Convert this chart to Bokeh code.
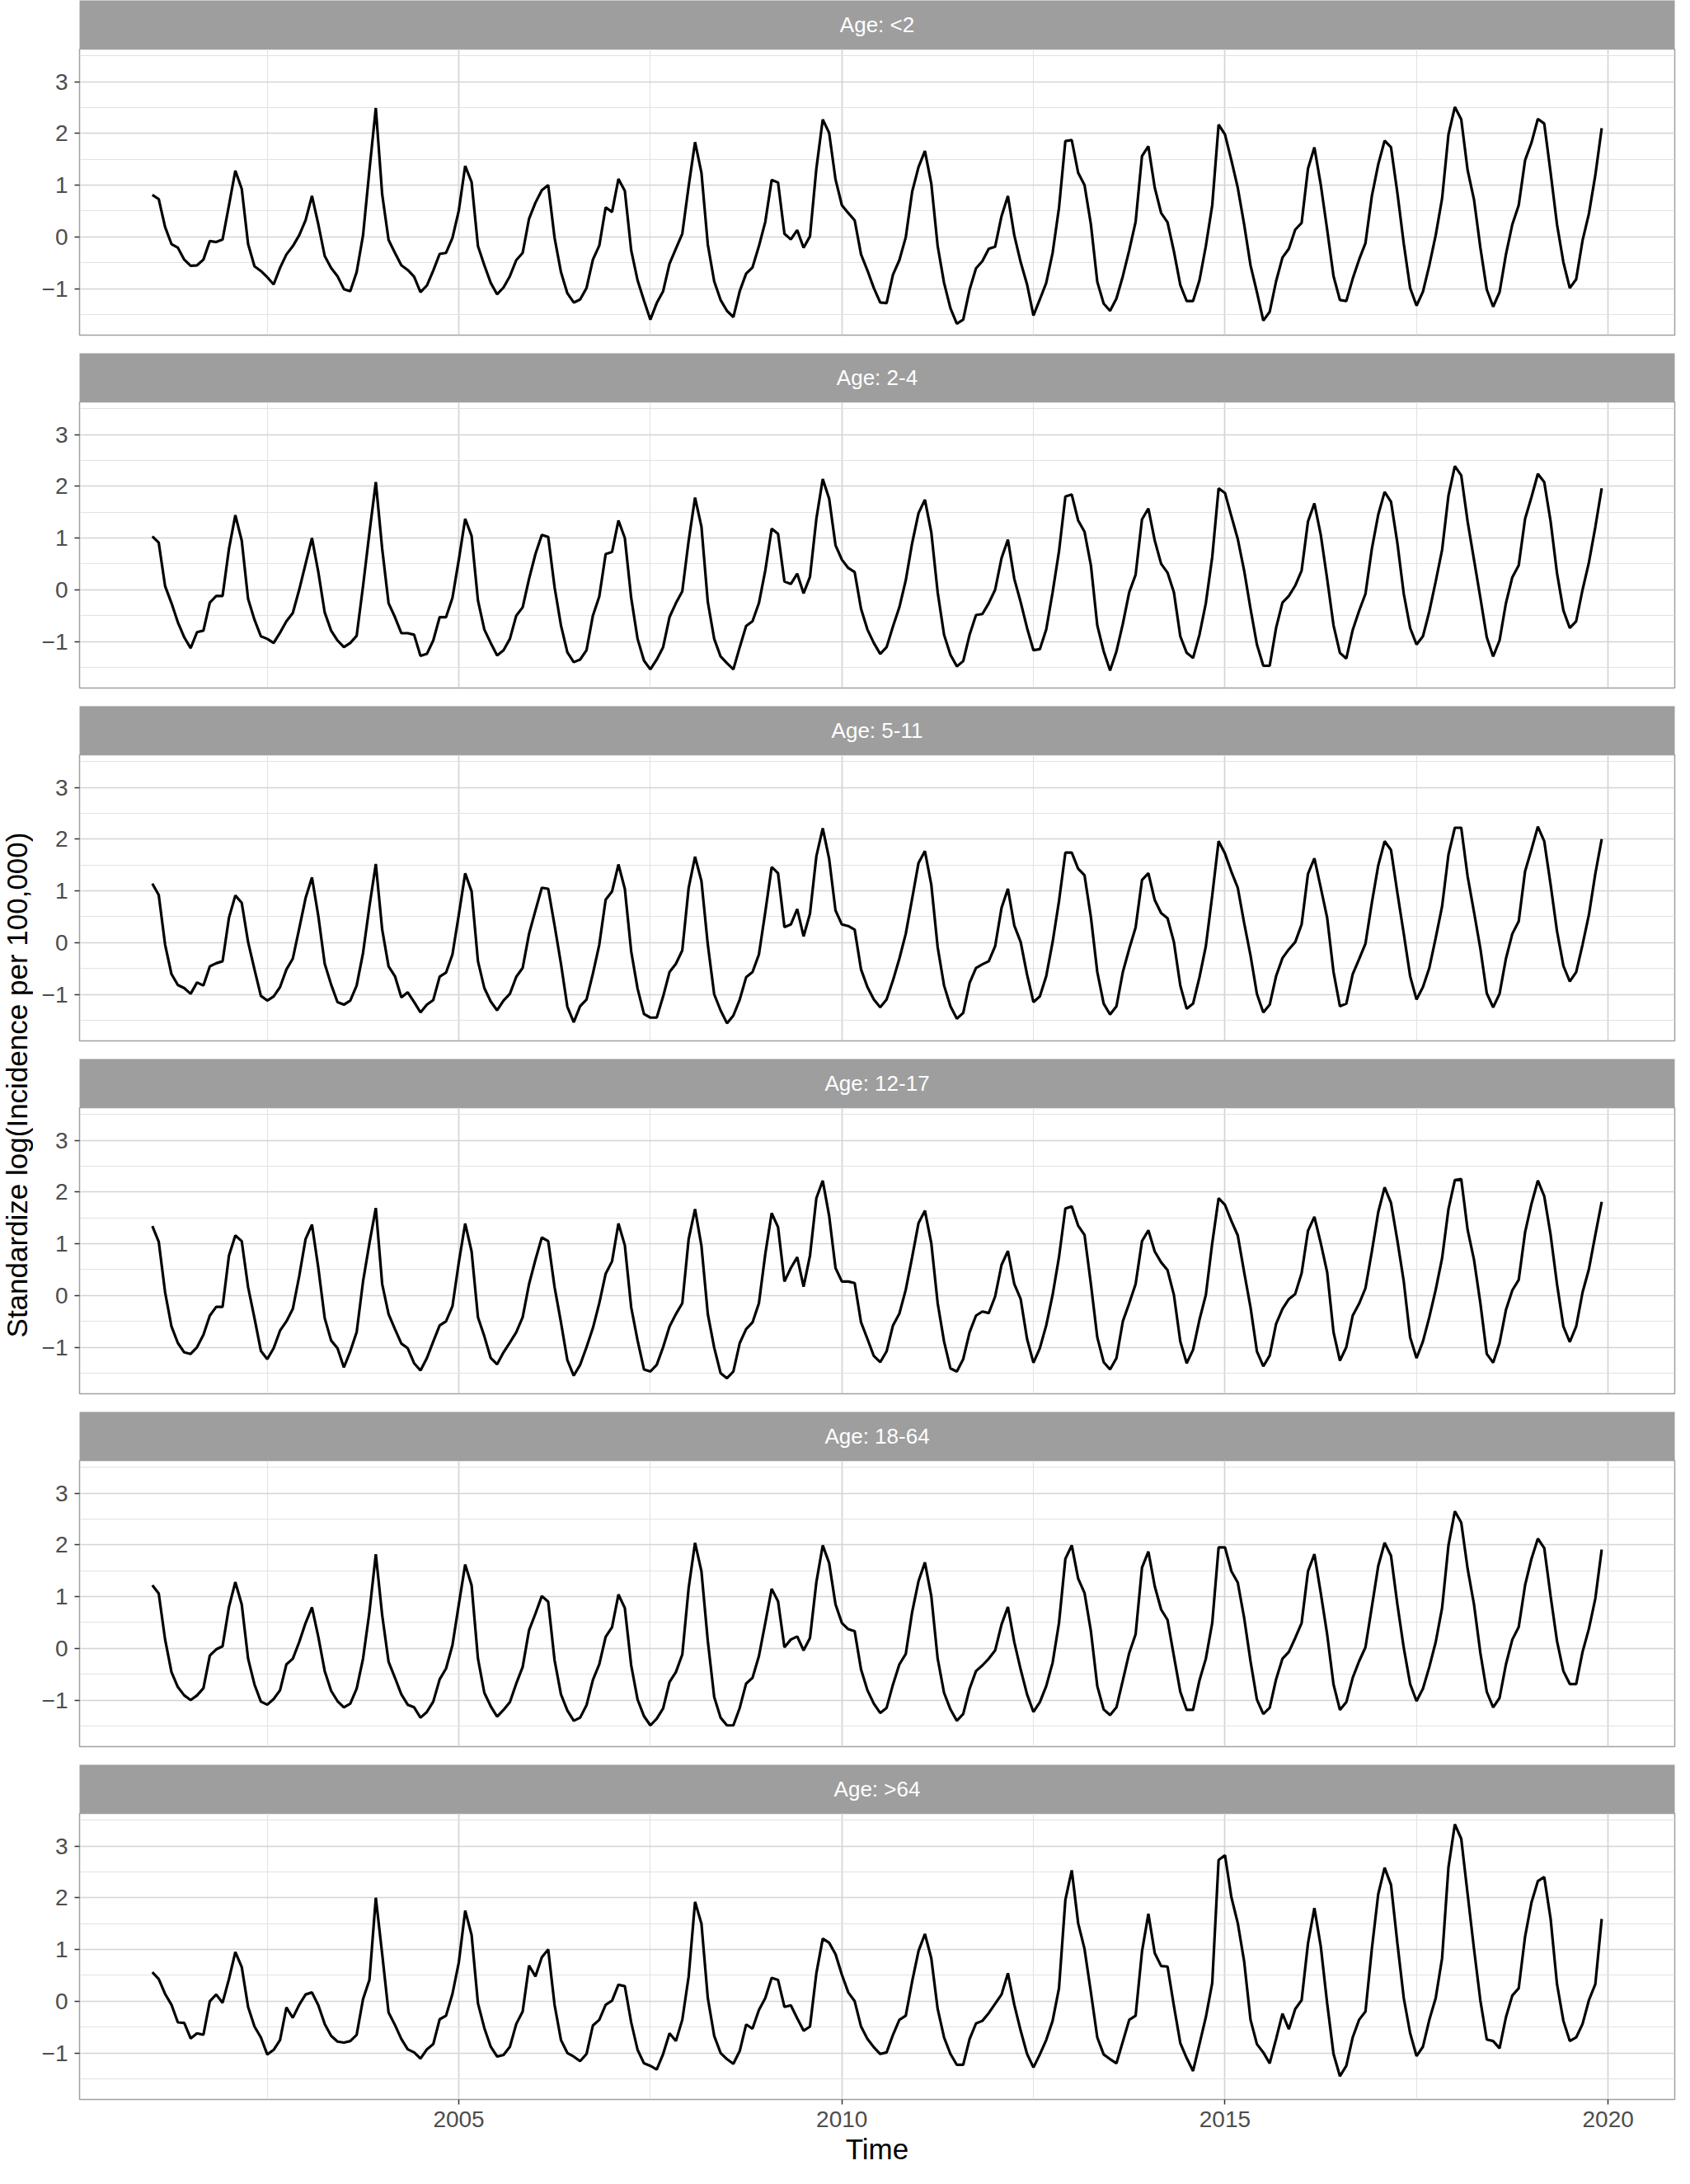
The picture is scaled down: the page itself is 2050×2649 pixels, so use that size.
import numpy as np
from bokeh.plotting import figure
from bokeh.layouts import column, row
from bokeh.models import Range1d, FixedTicker, Label
from bokeh.embed import file_html
from bokeh.resources import INLINE

# ---------------- data ----------------
start_year = 2001          # first observation: January 2001, monthly to December 2019
n_months = 228
panel_titles = ["Age: <2", "Age: 2-4", "Age: 5-11", "Age: 12-17", "Age: 18-64", "Age: >64"]

age_lt2 = [
    0.81, 0.73, 0.19, -0.14, -0.21, -0.44, -0.56, -0.55, -0.44, -0.08, -0.10, -0.05,
    0.61, 1.28, 0.93, -0.14, -0.57, -0.66, -0.78, -0.92, -0.60, -0.34, -0.18, 0.03,
    0.32, 0.79, 0.24, -0.37, -0.60, -0.76, -1.01, -1.05, -0.68, 0.03, 1.29, 2.49,
    0.82, -0.06, -0.31, -0.55, -0.64, -0.77, -1.07, -0.94, -0.65, -0.33, -0.31, -0.02,
    0.51, 1.37, 1.06, -0.18, -0.55, -0.89, -1.11, -0.98, -0.76, -0.45, -0.31, 0.35,
    0.66, 0.90, 1.00, -0.02, -0.68, -1.09, -1.27, -1.21, -0.99, -0.44, -0.17, 0.57,
    0.48, 1.12, 0.89, -0.26, -0.84, -1.23, -1.60, -1.28, -1.05, -0.52, -0.23, 0.06,
    0.98, 1.83, 1.24, -0.15, -0.86, -1.22, -1.43, -1.55, -1.05, -0.71, -0.59, -0.18,
    0.29, 1.10, 1.05, 0.06, -0.05, 0.13, -0.21, 0.01, 1.32, 2.27, 2.01, 1.11,
    0.61, 0.46, 0.32, -0.34, -0.65, -0.99, -1.27, -1.28, -0.73, -0.45, -0.01, 0.87,
    1.35, 1.66, 1.03, -0.18, -0.89, -1.38, -1.68, -1.60, -1.02, -0.61, -0.47, -0.23,
    -0.19, 0.40, 0.79, 0.03, -0.49, -0.92, -1.52, -1.21, -0.89, -0.31, 0.56, 1.85,
    1.87, 1.24, 1.00, 0.24, -0.87, -1.29, -1.43, -1.19, -0.76, -0.26, 0.29, 1.56,
    1.75, 0.95, 0.46, 0.28, -0.28, -0.93, -1.24, -1.24, -0.84, -0.18, 0.61, 2.17,
    1.98, 1.48, 0.95, 0.24, -0.55, -1.07, -1.62, -1.45, -0.86, -0.40, -0.23, 0.14,
    0.27, 1.32, 1.73, 1.01, 0.14, -0.76, -1.22, -1.24, -0.81, -0.44, -0.12, 0.79,
    1.40, 1.86, 1.73, 0.85, -0.13, -0.99, -1.33, -1.06, -0.55, 0.03, 0.74, 1.98,
    2.51, 2.27, 1.29, 0.72, -0.21, -1.02, -1.35, -1.07, -0.34, 0.24, 0.61, 1.48,
    1.82, 2.28, 2.19, 1.24, 0.24, -0.49, -0.99, -0.82, -0.07, 0.45, 1.19, 2.10,
]
age_2_4 = [
    1.03, 0.91, 0.07, -0.26, -0.63, -0.92, -1.13, -0.82, -0.79, -0.25, -0.12, -0.12,
    0.79, 1.44, 0.95, -0.18, -0.58, -0.90, -0.95, -1.03, -0.83, -0.61, -0.45, 0.00,
    0.50, 1.00, 0.34, -0.44, -0.79, -0.98, -1.11, -1.03, -0.89, 0.07, 1.10, 2.08,
    0.79, -0.26, -0.53, -0.84, -0.84, -0.87, -1.28, -1.24, -0.98, -0.53, -0.53, -0.16,
    0.58, 1.37, 1.04, -0.21, -0.77, -1.03, -1.27, -1.17, -0.95, -0.50, -0.34, 0.21,
    0.69, 1.06, 1.02, 0.05, -0.69, -1.21, -1.40, -1.35, -1.17, -0.50, -0.13, 0.69,
    0.73, 1.34, 1.00, -0.16, -0.95, -1.37, -1.54, -1.35, -1.11, -0.53, -0.26, -0.03,
    0.95, 1.78, 1.22, -0.24, -0.95, -1.29, -1.42, -1.54, -1.11, -0.70, -0.61, -0.26,
    0.37, 1.18, 1.08, 0.16, 0.11, 0.31, -0.07, 0.25, 1.37, 2.14, 1.76, 0.86,
    0.58, 0.42, 0.34, -0.37, -0.77, -1.03, -1.24, -1.11, -0.71, -0.34, 0.18, 0.90,
    1.48, 1.74, 1.11, -0.05, -0.87, -1.26, -1.48, -1.38, -0.87, -0.49, -0.47, -0.26,
    0.00, 0.61, 0.97, 0.21, -0.24, -0.74, -1.17, -1.15, -0.77, -0.05, 0.74, 1.80,
    1.84, 1.34, 1.12, 0.47, -0.69, -1.19, -1.56, -1.19, -0.66, -0.05, 0.29, 1.36,
    1.57, 0.95, 0.50, 0.33, -0.05, -0.90, -1.22, -1.32, -0.87, -0.26, 0.63, 1.96,
    1.87, 1.42, 0.98, 0.37, -0.37, -1.06, -1.47, -1.47, -0.74, -0.25, -0.12, 0.08,
    0.37, 1.32, 1.67, 1.06, 0.21, -0.69, -1.22, -1.33, -0.78, -0.41, -0.08, 0.79,
    1.45, 1.89, 1.70, 0.90, -0.08, -0.74, -1.06, -0.90, -0.42, 0.16, 0.77, 1.82,
    2.39, 2.21, 1.32, 0.58, -0.16, -0.92, -1.29, -0.98, -0.26, 0.24, 0.47, 1.37,
    1.79, 2.24, 2.08, 1.32, 0.32, -0.40, -0.74, -0.61, 0.00, 0.53, 1.21, 1.96,
]
age_5_11 = [
    1.14, 0.92, -0.04, -0.61, -0.82, -0.88, -0.99, -0.77, -0.83, -0.46, -0.40, -0.36,
    0.48, 0.91, 0.77, 0.01, -0.52, -1.03, -1.12, -1.04, -0.86, -0.52, -0.31, 0.27,
    0.86, 1.26, 0.51, -0.41, -0.81, -1.15, -1.20, -1.12, -0.83, -0.20, 0.70, 1.52,
    0.25, -0.46, -0.65, -1.06, -0.96, -1.15, -1.35, -1.20, -1.11, -0.66, -0.58, -0.23,
    0.54, 1.34, 0.99, -0.36, -0.88, -1.14, -1.31, -1.12, -0.99, -0.66, -0.49, 0.17,
    0.62, 1.06, 1.04, 0.33, -0.41, -1.24, -1.54, -1.23, -1.10, -0.60, -0.04, 0.83,
    0.99, 1.51, 1.04, -0.17, -0.89, -1.38, -1.45, -1.45, -1.04, -0.57, -0.41, -0.15,
    1.06, 1.66, 1.19, -0.04, -1.00, -1.31, -1.56, -1.41, -1.10, -0.67, -0.57, -0.23,
    0.59, 1.46, 1.34, 0.30, 0.35, 0.65, 0.12, 0.56, 1.67, 2.21, 1.62, 0.62,
    0.35, 0.32, 0.25, -0.52, -0.86, -1.10, -1.25, -1.10, -0.73, -0.31, 0.17, 0.85,
    1.54, 1.77, 1.12, -0.09, -0.83, -1.23, -1.47, -1.36, -0.78, -0.49, -0.42, -0.36,
    -0.07, 0.67, 1.04, 0.33, 0.01, -0.62, -1.15, -1.04, -0.65, 0.01, 0.80, 1.74,
    1.74, 1.43, 1.30, 0.49, -0.57, -1.18, -1.39, -1.23, -0.57, -0.12, 0.29, 1.21,
    1.34, 0.82, 0.57, 0.47, 0.01, -0.83, -1.28, -1.18, -0.67, -0.07, 0.91, 1.96,
    1.72, 1.37, 1.06, 0.38, -0.25, -0.99, -1.35, -1.20, -0.65, -0.30, -0.13, 0.01,
    0.35, 1.33, 1.63, 1.06, 0.48, -0.57, -1.23, -1.18, -0.61, -0.32, -0.02, 0.77,
    1.49, 1.96, 1.79, 0.96, 0.17, -0.65, -1.10, -0.86, -0.49, 0.09, 0.70, 1.70,
    2.22, 2.22, 1.28, 0.59, -0.12, -0.98, -1.25, -0.99, -0.31, 0.17, 0.41, 1.38,
    1.80, 2.24, 1.96, 1.12, 0.22, -0.45, -0.75, -0.57, -0.04, 0.54, 1.33, 2.00,
]
age_12_17 = [
    1.34, 1.04, 0.06, -0.60, -0.92, -1.10, -1.13, -1.00, -0.76, -0.39, -0.22, -0.22,
    0.77, 1.16, 1.05, 0.16, -0.44, -1.07, -1.23, -1.02, -0.68, -0.50, -0.26, 0.37,
    1.09, 1.37, 0.53, -0.44, -0.87, -1.02, -1.39, -1.08, -0.71, 0.27, 1.01, 1.69,
    0.22, -0.36, -0.65, -0.93, -1.02, -1.31, -1.45, -1.21, -0.89, -0.58, -0.50, -0.21,
    0.64, 1.39, 0.85, -0.42, -0.79, -1.21, -1.33, -1.10, -0.91, -0.71, -0.42, 0.22,
    0.69, 1.12, 1.05, 0.16, -0.52, -1.25, -1.55, -1.34, -1.00, -0.63, -0.15, 0.42,
    0.66, 1.39, 0.97, -0.23, -0.87, -1.43, -1.47, -1.34, -1.00, -0.60, -0.36, -0.15,
    1.09, 1.67, 0.96, -0.36, -1.01, -1.50, -1.60, -1.47, -0.92, -0.65, -0.52, -0.15,
    0.80, 1.59, 1.32, 0.27, 0.53, 0.74, 0.17, 0.77, 1.88, 2.22, 1.54, 0.53,
    0.27, 0.27, 0.24, -0.52, -0.84, -1.17, -1.29, -1.08, -0.58, -0.35, 0.11, 0.74,
    1.40, 1.64, 1.01, -0.15, -0.89, -1.41, -1.47, -1.23, -0.71, -0.39, -0.31, -0.34,
    -0.02, 0.59, 0.86, 0.22, -0.07, -0.84, -1.30, -1.02, -0.58, 0.01, 0.74, 1.68,
    1.72, 1.35, 1.17, 0.22, -0.81, -1.29, -1.43, -1.21, -0.50, -0.15, 0.22, 1.05,
    1.26, 0.85, 0.64, 0.49, 0.01, -0.89, -1.31, -1.05, -0.47, 0.01, 1.01, 1.88,
    1.75, 1.44, 1.16, 0.45, -0.23, -1.08, -1.37, -1.16, -0.55, -0.26, -0.07, 0.03,
    0.43, 1.25, 1.52, 1.01, 0.45, -0.71, -1.26, -1.00, -0.39, -0.16, 0.14, 0.85,
    1.61, 2.09, 1.79, 1.06, 0.27, -0.81, -1.21, -0.89, -0.42, 0.11, 0.72, 1.67,
    2.23, 2.25, 1.27, 0.69, -0.15, -1.13, -1.30, -0.92, -0.28, 0.10, 0.30, 1.22,
    1.77, 2.22, 1.92, 1.17, 0.22, -0.60, -0.90, -0.60, 0.06, 0.51, 1.17, 1.81,
]
age_18_64 = [
    1.22, 1.06, 0.17, -0.46, -0.75, -0.91, -1.00, -0.91, -0.77, -0.14, -0.02, 0.04,
    0.80, 1.28, 0.85, -0.20, -0.70, -1.03, -1.09, -0.98, -0.81, -0.31, -0.20, 0.12,
    0.49, 0.79, 0.22, -0.44, -0.82, -1.02, -1.14, -1.07, -0.78, -0.20, 0.70, 1.82,
    0.64, -0.26, -0.57, -0.89, -1.09, -1.14, -1.34, -1.23, -1.03, -0.60, -0.39, 0.06,
    0.85, 1.62, 1.22, -0.20, -0.86, -1.12, -1.32, -1.19, -1.04, -0.68, -0.36, 0.35,
    0.67, 1.01, 0.90, -0.23, -0.89, -1.20, -1.40, -1.34, -1.10, -0.61, -0.31, 0.22,
    0.41, 1.04, 0.78, -0.33, -0.99, -1.31, -1.49, -1.36, -1.16, -0.65, -0.46, -0.12,
    1.17, 2.04, 1.49, 0.14, -0.94, -1.34, -1.49, -1.49, -1.15, -0.68, -0.57, -0.15,
    0.49, 1.15, 0.91, 0.02, 0.17, 0.23, -0.04, 0.20, 1.28, 1.99, 1.65, 0.85,
    0.49, 0.37, 0.33, -0.41, -0.81, -1.07, -1.25, -1.15, -0.70, -0.31, -0.11, 0.70,
    1.30, 1.66, 1.01, -0.20, -0.86, -1.18, -1.40, -1.27, -0.78, -0.44, -0.33, -0.20,
    -0.04, 0.46, 0.80, 0.12, -0.41, -0.89, -1.23, -1.04, -0.73, -0.28, 0.49, 1.73,
    1.99, 1.35, 1.07, 0.33, -0.73, -1.18, -1.29, -1.14, -0.62, -0.09, 0.27, 1.56,
    1.87, 1.20, 0.75, 0.55, -0.15, -0.84, -1.19, -1.19, -0.62, -0.20, 0.49, 1.95,
    1.95, 1.49, 1.27, 0.59, -0.25, -0.99, -1.27, -1.15, -0.60, -0.20, -0.07, 0.20,
    0.49, 1.49, 1.82, 1.07, 0.27, -0.70, -1.19, -1.04, -0.57, -0.25, 0.02, 0.80,
    1.59, 2.04, 1.79, 0.85, 0.01, -0.69, -1.02, -0.78, -0.36, 0.12, 0.78, 1.99,
    2.65, 2.43, 1.54, 0.85, -0.09, -0.84, -1.14, -0.96, -0.31, 0.17, 0.41, 1.22,
    1.73, 2.12, 1.94, 1.01, 0.14, -0.44, -0.69, -0.69, -0.07, 0.38, 0.96, 1.91,
]
age_gt64 = [
    0.56, 0.43, 0.14, -0.07, -0.41, -0.42, -0.72, -0.62, -0.65, 0.00, 0.13, -0.03,
    0.43, 0.95, 0.66, -0.11, -0.49, -0.70, -1.03, -0.94, -0.75, -0.12, -0.32, -0.07,
    0.13, 0.17, -0.08, -0.44, -0.67, -0.78, -0.80, -0.77, -0.65, 0.04, 0.41, 2.00,
    0.91, -0.22, -0.46, -0.73, -0.93, -0.99, -1.11, -0.93, -0.83, -0.35, -0.28, 0.14,
    0.75, 1.75, 1.28, -0.04, -0.52, -0.88, -1.07, -1.04, -0.88, -0.44, -0.20, 0.69,
    0.48, 0.85, 1.00, -0.07, -0.75, -1.00, -1.07, -1.16, -1.02, -0.47, -0.36, -0.07,
    0.01, 0.32, 0.29, -0.41, -0.94, -1.20, -1.25, -1.32, -1.02, -0.62, -0.77, -0.36,
    0.48, 1.92, 1.50, 0.06, -0.67, -1.00, -1.12, -1.21, -0.96, -0.45, -0.53, -0.17,
    0.06, 0.45, 0.41, -0.11, -0.08, -0.33, -0.57, -0.49, 0.54, 1.21, 1.13, 0.91,
    0.51, 0.17, 0.00, -0.49, -0.73, -0.89, -1.02, -0.99, -0.65, -0.36, -0.28, 0.38,
    0.97, 1.30, 0.83, -0.15, -0.70, -1.02, -1.23, -1.23, -0.73, -0.43, -0.38, -0.23,
    -0.05, 0.13, 0.54, -0.07, -0.57, -1.02, -1.28, -1.03, -0.75, -0.38, 0.25, 1.96,
    2.53, 1.51, 1.01, 0.17, -0.70, -1.03, -1.12, -1.20, -0.78, -0.36, -0.28, 0.96,
    1.69, 0.93, 0.68, 0.67, -0.09, -0.81, -1.10, -1.35, -0.83, -0.31, 0.35, 2.73,
    2.82, 2.01, 1.51, 0.77, -0.36, -0.83, -0.99, -1.20, -0.73, -0.24, -0.54, -0.15,
    0.02, 1.12, 1.80, 1.06, -0.04, -1.02, -1.45, -1.25, -0.70, -0.36, -0.20, 1.01,
    2.07, 2.58, 2.25, 1.12, 0.06, -0.62, -1.06, -0.88, -0.36, 0.06, 0.83, 2.59,
    3.42, 3.14, 2.07, 1.01, 0.01, -0.74, -0.77, -0.91, -0.31, 0.11, 0.25, 1.25,
    1.91, 2.32, 2.40, 1.59, 0.33, -0.38, -0.77, -0.70, -0.44, 0.02, 0.33, 1.59,
]
series = [age_lt2, age_2_4, age_5_11, age_12_17, age_18_64, age_gt64]

x_ticks = [2005, 2010, 2015, 2020]
x_minor = [2002.5, 2007.5, 2012.5, 2017.5]
y_ticks = [-1, 0, 1, 2, 3]
y_minor = [-1.5, -0.5, 0.5, 1.5, 2.5, 3.5]

# time axis in decimal years (first day of each month)
time = [start_year + i / 12.0 for i in range(n_months)]

# ---------------- style ----------------
FONT = "Liberation Sans"
W = 1994
LEFT = 56
RIGHT = 3
STRIP_H = 59
FRAME_H = 347
GAP = 22
BOTTOM = 85
TOTAL_H = 6 * STRIP_H + 5 * (FRAME_H + GAP) + FRAME_H + BOTTOM
STRIP_COLOR = "#9E9E9E"
MAJOR_GRID = "#D4D4D4"
MINOR_GRID = "#E2E2E2"
BORDER = "#A0A0A0"

x_range = Range1d(2000.05, 2020.87)
y_range = Range1d(-1.9, 3.63)

figs = []
for k, (title, vals) in enumerate(zip(panel_titles, series)):
    last = (k == len(series) - 1)

    strip = figure(width=W, height=STRIP_H, x_range=Range1d(0, 1), y_range=Range1d(0, 1),
                   x_axis_type=None, y_axis_type=None, toolbar_location=None,
                   output_backend="svg", min_border_left=LEFT, min_border_right=RIGHT,
                   min_border_top=0, min_border_bottom=0)
    strip.background_fill_color = STRIP_COLOR
    strip.border_fill_color = "white"
    strip.outline_line_color = None
    strip.grid.visible = False
    strip.add_layout(Label(x=0.5, y=0.5, text=title, text_align="center",
                           text_baseline="middle", text_color="white",
                           text_font=FONT, text_font_size="26px"))
    figs.append(strip)

    p = figure(width=W, height=FRAME_H + (BOTTOM if last else GAP),
               x_range=x_range, y_range=y_range, toolbar_location=None,
               output_backend="svg", min_border_left=LEFT, min_border_right=RIGHT,
               min_border_top=0, min_border_bottom=(BOTTOM if last else GAP))
    p.line(time, vals, line_color="black", line_width=3.2)

    p.background_fill_color = "white"
    p.outline_line_color = BORDER
    p.outline_line_width = 1.5

    p.xaxis.ticker = FixedTicker(ticks=x_ticks, minor_ticks=x_minor)
    p.yaxis.ticker = FixedTicker(ticks=y_ticks, minor_ticks=y_minor)
    for g in (p.xgrid, p.ygrid):
        g.grid_line_color = MAJOR_GRID
        g.grid_line_width = 1.7
        g.minor_grid_line_color = MINOR_GRID
        g.minor_grid_line_width = 1.1

    for ax in (p.xaxis, p.yaxis):
        ax.axis_line_color = None
        ax.major_tick_line_color = "#333333"
        ax.major_tick_line_width = 1.5
        ax.major_tick_out = 6
        ax.major_tick_in = 0
        ax.minor_tick_line_color = None
        ax.major_label_text_font = FONT
        ax.major_label_text_font_size = "28px"
        ax.major_label_text_color = "#4D4D4D"
        ax.major_label_standoff = 8

    if last:
        p.xaxis.axis_label = "Time"
        p.xaxis.axis_label_text_font = FONT
        p.xaxis.axis_label_text_font_size = "35px"
        p.xaxis.axis_label_text_font_style = "normal"
        p.xaxis.axis_label_text_color = "black"
        p.xaxis.axis_label_standoff = 4
    else:
        p.xaxis.visible = False
    figs.append(p)

# shared y-axis title
lab = figure(width=40, height=TOTAL_H, x_range=Range1d(0, 1), y_range=Range1d(0, 1),
             x_axis_type=None, y_axis_type=None, toolbar_location=None,
             output_backend="svg", min_border=0)
lab.outline_line_color = None
lab.grid.visible = False
lab.add_layout(Label(x=0.5, y=0.5, text="Standardize log(Incidence per 100,000)",
                     angle=np.pi / 2, text_align="center", text_baseline="middle",
                     text_color="black", text_font=FONT, text_font_size="35px"))

layout = row(lab, column(*figs))
open("out.html", "w").write(file_html(layout, INLINE, "Standardized incidence by age"))
